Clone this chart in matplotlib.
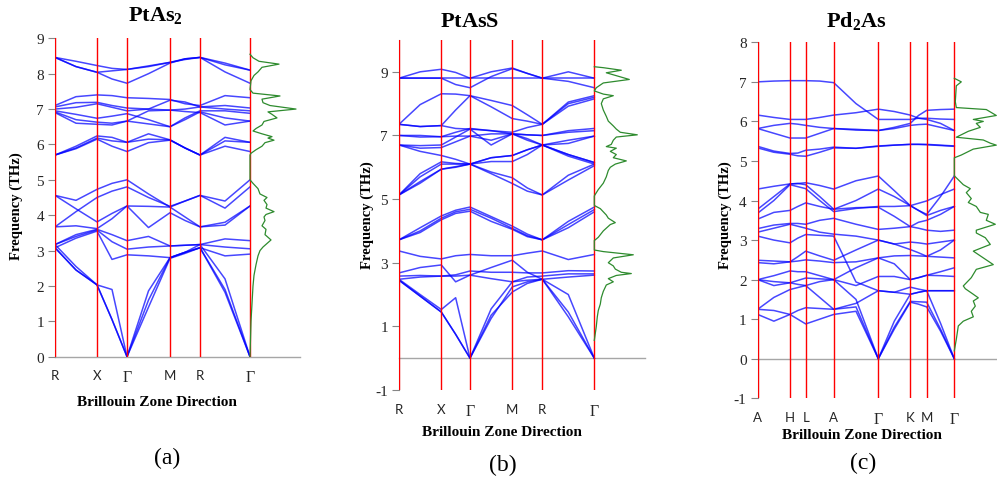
import matplotlib.pyplot as plt
import numpy as np

plt.rcParams['mathtext.fontset'] = 'custom'
plt.rcParams['mathtext.rm'] = 'Liberation Serif'
plt.rcParams['mathtext.bf'] = 'Liberation Serif:bold'

# ---------------- PtAs2 ----------------
kpos_a = [0, 42, 72, 115, 145, 195]
klab_a = ['R', 'X', 'Γ', 'M', 'R', 'Γ']
# band values at each high-symmetry point and the middle of each segment
bands_a = [
    [8.46, 8.35, 8.23, 8.15, 8.12, 8.20, 8.32, 8.42, 8.46, 8.30, 8.10],
    [8.46, 8.20, 8.04, 8.08, 8.12, 8.22, 8.32, 8.40, 8.46, 8.25, 8.10],
    [8.46, 8.20, 8.04, 7.85, 7.73, 8.00, 8.30, 8.42, 8.46, 8.05, 7.73],
    [7.10, 7.35, 7.40, 7.38, 7.32, 7.30, 7.27, 7.15, 7.10, 7.38, 7.32],
    [7.06, 7.18, 7.19, 7.10, 7.03, 7.00, 6.97, 7.00, 7.06, 7.10, 7.03],
    [6.95, 6.85, 6.74, 6.80, 6.87, 6.70, 6.50, 6.75, 6.95, 6.95, 6.88],
    [6.92, 6.70, 6.63, 6.60, 6.66, 6.58, 6.50, 6.70, 6.92, 6.75, 6.66],
    [6.90, 6.60, 6.57, 6.55, 6.66, 6.95, 6.97, 6.93, 6.90, 6.55, 6.66],
    [7.00, 7.05, 7.15, 7.05, 6.95, 7.00, 7.25, 7.20, 7.06, 7.00, 6.95],
    [5.70, 5.95, 6.24, 6.20, 6.06, 6.30, 6.13, 5.90, 5.70, 6.20, 6.06],
    [5.70, 5.90, 6.18, 6.10, 6.06, 6.15, 6.13, 5.90, 5.70, 6.10, 6.06],
    [5.70, 5.88, 6.15, 5.95, 5.80, 6.05, 6.12, 5.90, 5.70, 5.95, 5.80],
    [4.56, 4.42, 4.73, 4.90, 5.00, 4.60, 4.23, 4.40, 4.56, 4.40, 5.00],
    [3.67, 4.10, 4.50, 4.68, 4.80, 4.50, 4.25, 4.40, 4.56, 4.20, 4.80],
    [4.56, 4.18, 3.81, 4.05, 4.26, 4.25, 4.23, 3.95, 3.67, 3.72, 4.26],
    [3.67, 3.70, 3.62, 3.90, 4.26, 3.65, 4.07, 3.85, 3.67, 3.80, 4.26],
    [3.17, 3.45, 3.60, 3.45, 3.28, 3.40, 3.13, 3.15, 3.17, 3.33, 3.28],
    [3.08, 3.35, 3.55, 2.75, 2.88, 2.85, 2.80, 2.95, 3.08, 2.85, 2.90],
    [3.17, 3.40, 3.58, 3.25, 3.04, 3.10, 3.13, 3.15, 3.17, 3.10, 3.05],
    [3.08, 2.45, 2.03, 1.05, 0.00, 1.40, 2.78, 2.92, 3.08, 1.82, 0.00],
    [3.17, 2.55, 2.03, 1.90, 0.00, 1.60, 2.80, 2.95, 3.08, 1.90, 0.00],
    [3.08, 2.45, 2.03, 1.05, 0.00, 1.86, 2.80, 2.95, 3.17, 2.20, 0.00],
]
dos_a_freq = [8.55, 8.45, 8.35, 8.27, 8.18, 8.05, 7.95, 7.8, 7.55, 7.45,
              7.37, 7.28, 7.18, 7.1, 7.0, 6.92, 6.85, 6.75, 6.65, 6.55,
              6.45, 6.38, 6.3, 6.22, 6.18, 6.12, 6.05, 5.95, 5.85, 5.75,
              5.7, 5.0, 4.9, 4.75, 4.6, 4.5, 4.42, 4.3, 4.2, 4.1,
              4.02, 3.95, 3.85, 3.7, 3.6, 3.45, 3.3, 3.2, 3.1, 3.0,
              2.85, 2.6, 2.3, 2.0, 1.5, 1.0, 0.5, 0.0]
dos_a = [0, 3, 9, 29, 12, 8, 4, 1, 0, 3,
         30, 12, 13, 20, 46, 18, 22, 27, 14, 12,
         6, 3, 12, 22, 18, 24, 15, 12, 6, 1,
         0, 0, 3, 8, 10, 17, 14, 17, 16, 24,
         16, 14, 15, 12, 16, 15, 21, 17, 13, 10,
         8, 6, 4, 3, 2, 1, 0.5, 0]

# ---------------- PtAsS ----------------
kpos_b = [0, 42.3, 71, 113.3, 143.3, 195.3]
klab_b = ['R', 'X', 'Γ', 'M', 'R', 'Γ']
bands_b = [
    [8.80, 9.00, 9.08, 8.98, 8.80, 9.00, 9.12, 8.95, 8.80, 9.00, 8.80],
    [8.80, 8.80, 8.80, 8.80, 8.80, 8.80, 8.80, 8.80, 8.80, 8.80, 8.80],
    [8.80, 8.80, 8.80, 8.60, 8.50, 8.85, 9.10, 8.95, 8.80, 8.70, 8.50],
    [7.35, 7.97, 8.31, 8.30, 8.25, 8.10, 7.94, 7.65, 7.35, 8.05, 8.25],
    [7.35, 7.28, 7.31, 7.80, 8.25, 7.90, 7.53, 7.45, 7.35, 8.00, 8.20],
    [7.35, 7.28, 7.31, 7.22, 7.20, 7.15, 7.10, 7.25, 7.35, 7.92, 8.15],
    [7.00, 7.00, 6.96, 7.10, 7.22, 7.15, 7.05, 7.02, 7.00, 7.15, 7.22],
    [7.00, 6.95, 6.96, 6.98, 6.98, 7.05, 7.05, 7.02, 7.00, 7.10, 7.15],
    [6.70, 6.68, 6.70, 6.95, 7.20, 6.70, 7.05, 6.85, 6.70, 6.75, 6.98],
    [6.70, 6.60, 6.62, 6.80, 6.98, 6.85, 7.05, 6.90, 6.70, 6.85, 6.98],
    [5.13, 5.80, 6.17, 6.12, 6.10, 6.30, 6.37, 6.55, 6.70, 6.40, 6.15],
    [5.13, 5.70, 6.10, 6.10, 6.10, 6.18, 6.18, 6.40, 6.70, 6.35, 6.10],
    [5.13, 5.55, 5.94, 6.00, 6.10, 5.85, 5.67, 5.35, 5.13, 5.75, 6.10],
    [5.13, 5.50, 5.94, 6.02, 6.10, 5.80, 5.49, 5.25, 5.13, 5.60, 6.05],
    [6.70, 6.50, 6.37, 6.25, 6.10, 6.30, 6.37, 6.55, 6.70, 6.40, 6.15],
    [3.72, 4.10, 4.47, 4.65, 4.75, 4.45, 4.15, 3.90, 3.72, 4.30, 4.75],
    [3.72, 4.00, 4.40, 4.60, 4.68, 4.40, 4.08, 3.85, 3.72, 4.20, 4.67],
    [3.72, 3.95, 4.35, 4.55, 4.62, 4.30, 4.05, 3.82, 3.72, 4.10, 4.60],
    [3.37, 3.20, 3.12, 3.22, 3.26, 3.22, 3.22, 3.30, 3.37, 3.10, 3.26],
    [2.68, 2.85, 2.93, 2.40, 2.61, 2.85, 3.08, 2.70, 2.48, 2.55, 2.61],
    [2.58, 2.60, 2.58, 2.62, 2.74, 2.70, 2.70, 2.68, 2.68, 2.75, 2.74],
    [2.48, 2.55, 2.58, 2.58, 2.61, 2.50, 2.40, 2.55, 2.58, 2.65, 2.65],
    [2.48, 2.00, 1.53, 1.90, 0.00, 1.25, 2.24, 2.40, 2.48, 1.30, 0.00],
    [2.45, 1.95, 1.45, 0.75, 0.00, 1.35, 2.08, 2.35, 2.48, 1.45, 0.00],
    [2.45, 1.95, 1.45, 0.75, 0.00, 1.55, 2.40, 2.45, 2.48, 2.00, 0.00],
]
dos_b_freq = [9.16, 9.13, 9.05, 8.97, 8.76, 8.65, 8.5, 8.4, 8.3, 8.25,
              8.15, 8.0, 7.8, 7.6, 7.45, 7.3, 7.2, 7.1, 7.02, 6.95,
              6.85, 6.72, 6.65, 6.6, 6.5, 6.4, 6.3, 6.2, 6.1, 6.0,
              5.9, 5.7, 5.5, 5.3, 5.15, 5.1, 4.8, 4.7, 4.6, 4.5,
              4.4, 4.26, 4.2, 4.0, 3.8, 3.72, 3.7, 3.4, 3.35, 3.25,
              3.15, 3.0, 2.9, 2.8, 2.7, 2.66, 2.6, 2.5, 2.4, 2.3,
              2.1, 1.9, 1.7, 1.5, 1.3, 1.0, 0.56]
dos_b = [0, 9, 27, 12, 35, 9, 2, 0, 9, 19,
         9, 7, 9, 12, 14, 19, 22, 26, 43, 22,
         19, 17, 12, 22, 16, 22, 19, 32, 21, 16,
         14, 12, 9, 4, 1, 0, 0, 6, 9, 12,
         14, 21, 16, 9, 4, 1, 0, 0, 9, 39,
         19, 14, 19, 21, 27, 37, 22, 14, 19, 12,
         9, 7, 6, 4, 3, 2, 0]

# ---------------- Pd2As ----------------
kpos_c = [0, 32.3, 48, 76, 120.6, 152.6, 169, 196.6]
klab_c = ['A', 'H', 'L', 'A', 'Γ', 'K', 'M', 'Γ']
bands_c = [
    [7.00, 7.02, 7.03, 7.03, 7.03, 7.02, 6.98, 6.45, 6.05, 6.05, 6.05, 6.08, 6.08, 6.06, 6.05],
    [6.16, 6.10, 6.05, 6.05, 6.05, 6.10, 6.16, 6.22, 6.31, 6.25, 6.16, 6.08, 6.05, 5.95, 5.77],
    [5.82, 5.90, 5.95, 5.93, 5.90, 5.85, 5.82, 5.78, 5.77, 5.85, 5.95, 6.15, 6.28, 6.30, 6.31],
    [5.82, 5.70, 5.58, 5.58, 5.58, 5.70, 5.82, 5.80, 5.77, 5.82, 5.90, 5.92, 5.93, 5.85, 5.77],
    [5.37, 5.25, 5.19, 5.20, 5.27, 5.30, 5.35, 5.32, 5.38, 5.40, 5.42, 5.42, 5.42, 5.40, 5.38],
    [5.33, 5.22, 5.17, 5.13, 5.12, 5.22, 5.33, 5.32, 5.37, 5.40, 5.42, 5.42, 5.41, 5.39, 5.37],
    [4.29, 4.36, 4.42, 4.43, 4.45, 4.38, 4.29, 4.50, 4.62, 4.25, 3.87, 3.75, 3.65, 4.10, 4.62],
    [3.78, 4.10, 4.42, 4.43, 4.40, 4.10, 3.78, 4.00, 4.29, 4.10, 3.87, 3.93, 3.99, 4.15, 4.29],
    [3.68, 4.00, 4.40, 4.35, 4.30, 4.00, 3.72, 3.80, 3.85, 3.85, 3.87, 3.75, 3.62, 3.75, 3.85],
    [3.53, 3.70, 3.75, 3.85, 3.94, 3.85, 3.78, 3.82, 3.83, 3.60, 3.34, 3.45, 3.50, 3.65, 3.85],
    [3.29, 3.38, 3.42, 3.42, 3.40, 3.50, 3.55, 3.40, 3.27, 3.30, 3.34, 3.30, 3.25, 3.22, 3.25],
    [3.20, 3.30, 3.40, 3.35, 3.30, 3.20, 3.15, 3.10, 3.00, 2.90, 2.95, 2.93, 2.90, 2.95, 3.00],
    [3.10, 3.00, 2.93, 3.05, 3.14, 3.12, 3.10, 1.94, 1.72, 1.68, 1.81, 1.76, 1.72, 1.72, 1.72],
    [2.49, 2.47, 2.45, 2.58, 2.72, 2.60, 2.49, 2.75, 3.00, 2.90, 2.76, 2.68, 2.59, 2.57, 2.55],
    [2.43, 2.40, 2.45, 2.47, 2.50, 2.47, 2.43, 2.45, 2.55, 2.60, 2.61, 2.60, 2.59, 2.75, 3.00],
    [2.00, 2.10, 2.22, 2.20, 2.20, 2.10, 2.00, 1.85, 2.08, 2.08, 2.00, 2.05, 2.11, 2.10, 2.08],
    [2.00, 1.95, 1.92, 1.98, 2.04, 2.02, 2.00, 2.30, 2.55, 2.40, 2.00, 2.05, 2.11, 2.20, 2.30],
    [1.25, 1.55, 1.75, 1.80, 1.85, 1.55, 1.25, 1.40, 1.72, 1.68, 1.63, 1.68, 1.72, 1.72, 1.72],
    [1.25, 1.22, 1.12, 1.22, 1.29, 1.27, 1.25, 1.31, 0.00, 0.75, 1.43, 1.38, 1.31, 0.70, 0.00],
    [1.12, 0.95, 1.12, 1.00, 0.88, 1.00, 1.12, 1.20, 0.00, 0.80, 1.45, 1.44, 1.43, 0.75, 0.00],
    [2.00, 1.85, 1.92, 1.88, 1.85, 1.95, 2.00, 1.50, 0.00, 0.95, 1.63, 1.68, 1.72, 0.90, 0.00],
]
dos_c_freq = [7.09, 7.0, 6.9, 6.5, 6.35, 6.3, 6.15, 6.05, 6.0, 5.95,
              5.85, 5.75, 5.6, 5.53, 5.45, 5.4, 5.3, 5.15, 5.08, 4.62,
              4.6, 4.4, 4.3, 4.2, 4.05, 3.95, 3.85, 3.7, 3.65, 3.5,
              3.4, 3.25, 3.18, 3.06, 2.89, 2.72, 2.55, 2.38, 2.26, 2.05,
              1.84, 1.77, 1.63, 1.54, 1.46, 1.33, 1.2, 1.06, 0.95, 0.83,
              0.49, 0.2]
dos_c = [0, 7, 2, 1, 2, 32, 42, 19, 29, 22,
         26, 14, 2, 29, 36, 42, 19, 7, 0, 0,
         1, 9, 16, 12, 17, 14, 22, 26, 34, 32,
         41, 22, 22, 31, 36, 19, 29, 39, 22, 17,
         9, 11, 19, 24, 19, 21, 17, 19, 9, 4,
         2, 0]

W, H = 997, 485
fig = plt.figure(figsize=(W / 100, H / 100), dpi=100)


def px_axes(left, top, right, bottom):
    return fig.add_axes([left / W, 1 - bottom / H, (right - left) / W, (bottom - top) / H])


def kgrid(kpos):
    xs = []
    for a, b in zip(kpos[:-1], kpos[1:]):
        xs += [a, (a + b) / 2]
    xs.append(kpos[-1])
    return np.array(xs)


def draw_panel(ax, kpos, labels, bands, dos_freq, dos_val, ylim, yticks, xmax):
    x = kgrid(kpos)
    for b in bands:
        ax.plot(x, b, color='#0000ff', lw=1.1, alpha=0.72, zorder=2)
    for k in kpos:
        ax.axvline(k, color='#ff0000', lw=1.0, zorder=3)
    ax.axhline(0, color='#a6a6a6', lw=1.0, zorder=1, clip_on=False)
    ax.plot(kpos[-1] + np.array(dos_val), dos_freq, color='#2e8b2e', lw=0.9, zorder=4)
    ax.set_xlim(0, xmax)
    ax.set_ylim(*ylim)
    ax.set_yticks(yticks)
    ax.set_yticklabels([str(t) for t in yticks], family='Liberation Serif', fontsize=11, color='#262626')
    ax.set_xticks(kpos)
    ax.set_xticklabels(labels, fontsize=9.5, color='#262626')
    for t, lab in zip(ax.get_xticklabels(), labels):
        t.set_family('Liberation Serif' if lab == 'Γ' else 'Lato')
        if lab == 'Γ':
            t.set_fontsize(11.5)
    for s in ['top', 'right', 'bottom']:
        ax.spines[s].set_visible(False)
    ax.spines['left'].set_color('#868686')
    ax.spines['left'].set_linewidth(0.8)
    ax.tick_params(axis='y', length=5, width=0.8, color='#868686', pad=3)
    ax.tick_params(axis='x', length=0, pad=9)
    ax.set_facecolor('none')


ax_a = px_axes(55, 39.3, 300, 357.7)
draw_panel(ax_a, kpos_a, klab_a, bands_a, dos_a_freq, dos_a, (0, 9), list(range(0, 10)), 245)

ax_b = px_axes(399, 41, 645, 391)
draw_panel(ax_b, kpos_b, klab_b, bands_b, dos_b_freq, dos_b, (-1, 10), [-1, 1, 3, 5, 7, 9], 246)

ax_c = px_axes(757.7, 43.3, 997, 399.3)
draw_panel(ax_c, kpos_c, klab_c, bands_c, dos_c_freq, dos_c, (-1, 8), list(range(-1, 9)), 239.3)


def ftext(x, y, s, **kw):
    fig.text(x / W, 1 - y / H, s, **kw)


# titles
ftext(155, 21, r'$\mathbf{PtAs_2}$', ha='center', va='baseline', fontsize=16)
ftext(470, 27, r'$\mathbf{PtAsS}$', ha='center', va='baseline', fontsize=16)
ftext(856, 27, r'$\mathbf{Pd_2As}$', ha='center', va='baseline', fontsize=16)

# axis labels
for x, y in [(16, 206), (367, 215), (725, 215)]:
    ftext(x, y, 'Frequency (THz)', ha='center', va='center', rotation=90,
          family='Liberation Serif', fontweight='bold', fontsize=10.5)
for x, y in [(157, 402), (502, 433), (862, 436)]:
    ftext(x, y, 'Brillouin Zone Direction', ha='center', va='center',
          family='Liberation Serif', fontweight='bold', fontsize=11)

# panel captions
for x, y, s in [(167, 458, '(a)'), (503, 465, '(b)'), (863, 463, '(c)')]:
    ftext(x, y, s, ha='center', va='center', family='Liberation Serif', fontsize=17)

fig.savefig('out.png', dpi=100)
